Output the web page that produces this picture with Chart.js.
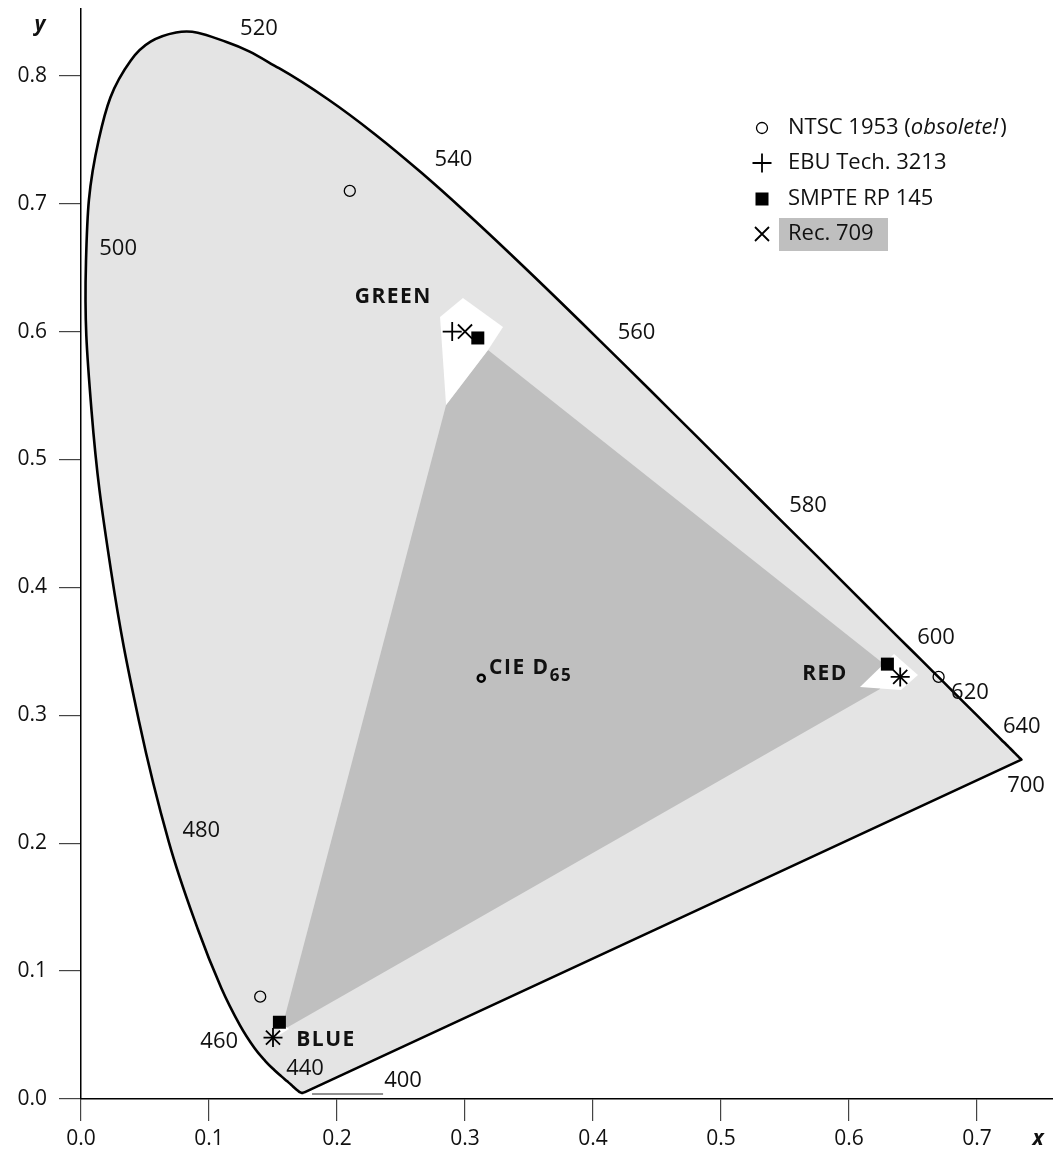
<!DOCTYPE html>
<html>
<head>
<meta charset="utf-8">
<script src="https://cdn.jsdelivr.net/npm/chart.js@4.4.1/dist/chart.umd.min.js"></script>
<style>
  html, body { margin: 0; padding: 0; background: #fff; }
</style>
</head>
<body>
<canvas id="chart" width="1053" height="1155"></canvas>
<script>
// CIE 1931 spectral locus (5 nm steps)
const locusNm = [380,385,390,395,400,405,410,415,420,425,430,435,440,445,450,455,460,465,470,475,
  480,485,490,495,500,505,510,515,520,525,530,535,540,545,550,555,560,565,570,575,580,585,590,595,
  600,605,610,615,620,625,630,635,640,645,650,655,660,665,670,675,680,685,690,695,700]
const locusX = [0.1741,0.1740,0.1738,0.1736,0.1733,0.1730,0.1726,0.1721,0.1714,0.1703,0.1689,0.1669,
  0.1644,0.1611,0.1566,0.1510,0.1440,0.1355,0.1241,0.1096,0.0913,0.0687,0.0454,0.0235,0.0082,0.0039,
  0.0139,0.0389,0.0743,0.1142,0.1547,0.1929,0.2296,0.2658,0.3016,0.3373,0.3731,0.4087,0.4441,0.4788,
  0.5125,0.5448,0.5752,0.6029,0.6270,0.6482,0.6658,0.6801,0.6915,0.7006,0.7079,0.7140,0.7190,0.7230,
  0.7260,0.7283,0.7300,0.7311,0.7320,0.7327,0.7334,0.7340,0.7344,0.7346,0.7347]
const locusY = [0.0050,0.0050,0.0049,0.0049,0.0048,0.0048,0.0048,0.0048,0.0051,0.0058,0.0069,0.0086,
  0.0109,0.0138,0.0177,0.0227,0.0297,0.0399,0.0578,0.0868,0.1327,0.2007,0.2950,0.4127,0.5384,0.6548,
  0.7502,0.8120,0.8338,0.8262,0.8059,0.7816,0.7543,0.7243,0.6923,0.6589,0.6245,0.5896,0.5547,0.5202,
  0.4866,0.4544,0.4242,0.3965,0.3725,0.3514,0.3340,0.3197,0.3083,0.2993,0.2920,0.2859,0.2809,0.2770,
  0.2740,0.2717,0.2700,0.2689,0.2680,0.2673,0.2666,0.2660,0.2656,0.2654,0.2653]

// primaries (R, G, B)
const ntscX = [0.67, 0.21, 0.14]
const ntscY = [0.33, 0.71, 0.08]
const ebuX = [0.64, 0.29, 0.15]
const ebuY = [0.33, 0.60, 0.048]
const smpteX = [0.63, 0.31, 0.155]
const smpteY = [0.34, 0.595, 0.06]
const rec709X = [0.64, 0.30, 0.15]
const rec709Y = [0.33, 0.60, 0.048]
const d65X = [0.3127]
const d65Y = [0.329]

// common area of the gamuts and the parts where they differ
const commonX = [0.3180, 0.6273, 0.6242, 0.1563, 0.2852]
const commonY = [0.5856, 0.3401, 0.3206, 0.0532, 0.5426]
const diffGreenX = [0.2805, 0.2984, 0.3297, 0.3180, 0.2852]
const diffGreenY = [0.6114, 0.6263, 0.6036, 0.5856, 0.5426]
const diffRedX = [0.6086, 0.6352, 0.6539, 0.6406]
const diffRedY = [0.3221, 0.3479, 0.3315, 0.3198]
const diffBlueX = [0.1523, 0.1570, 0.1625]
const diffBlueY = [0.0485, 0.0586, 0.0547]

// wavelength marks along the locus
const waveLabels = ['520', '540', '560', '580', '600', '620', '640', '700', '500', '480', '460', '440', '400']
const waveLabelX = [0.139, 0.291, 0.434, 0.568, 0.668, 0.6945, 0.735, 0.7383, 0.029, 0.094, 0.108, 0.175, 0.2516]
const waveLabelY = [0.837, 0.734, 0.599, 0.4636, 0.361, 0.318, 0.291, 0.2447, 0.665, 0.210, 0.0446, 0.0235, 0.0141]
const leaderX = [0.1805, 0.236]
const leaderY = [0.0039, 0.0039]

const xTicks = [0.0, 0.1, 0.2, 0.3, 0.4, 0.5, 0.6, 0.7]
const yTicks = [0.0, 0.1, 0.2, 0.3, 0.4, 0.5, 0.6, 0.7, 0.8]

const FONT = "'Open Sans', 'Noto Sans', sans-serif"
const LIGHT = '#e4e4e4'
const DARK = '#bfbfbf'

const pts = (xs, ys) => xs.map((x, i) => ({ x, y: ys[i] }))
const closed = (xs, ys) => { const p = pts(xs, ys); p.push(p[0]); return p }

const polygon = (data, color, order) => ({
  data, order,
  showLine: true,
  fill: 'shape',
  backgroundColor: color,
  borderColor: 'rgba(0,0,0,0)',
  borderWidth: 0,
  pointRadius: 0,
  tension: 0
})

const markers = (data, style, radius, width, fillColor) => ({
  data, order: 0,
  showLine: false,
  pointStyle: style,
  pointRadius: radius,
  pointHoverRadius: radius,
  pointBorderWidth: width,
  pointBorderColor: '#000',
  pointBackgroundColor: fillColor
})

// small marker drawing for the hand-made legend
function drawMark (ctx, style, x, y) {
  ctx.save()
  ctx.strokeStyle = '#000'
  ctx.fillStyle = '#000'
  ctx.beginPath()
  if (style === 'circle') {
    ctx.lineWidth = 1.3
    ctx.arc(x, y, 5.5, 0, Math.PI * 2)
    ctx.stroke()
  } else if (style === 'cross') {
    ctx.lineWidth = 1.8
    ctx.moveTo(x - 9.5, y); ctx.lineTo(x + 9.5, y)
    ctx.moveTo(x, y - 9.5); ctx.lineTo(x, y + 9.5)
    ctx.stroke()
  } else if (style === 'rect') {
    ctx.fillRect(x - 6.5, y - 6.5, 13, 13)
  } else {
    ctx.lineWidth = 1.8
    ctx.moveTo(x - 7, y - 7); ctx.lineTo(x + 7, y + 7)
    ctx.moveTo(x - 7, y + 7); ctx.lineTo(x + 7, y - 7)
    ctx.stroke()
  }
  ctx.restore()
}

const annotations = {
  id: 'annotations',
  afterDraw (chart) {
    const { ctx, scales: { x, y } } = chart
    ctx.save()
    ctx.fillStyle = '#111'
    ctx.textBaseline = 'middle'

    // wavelengths
    ctx.font = `22px ${FONT}`
    ctx.textAlign = 'center'
    waveLabels.forEach((t, i) => {
      ctx.fillText(t, x.getPixelForValue(waveLabelX[i]), y.getPixelForValue(waveLabelY[i]))
    })

    // primaries names
    ctx.font = `bold 21px ${FONT}`
    ctx.letterSpacing = '1.5px'
    ctx.fillText('GREEN', x.getPixelForValue(0.244), y.getPixelForValue(0.627))
    ctx.fillText('RED', x.getPixelForValue(0.5813), y.getPixelForValue(0.332))
    ctx.fillText('BLUE', x.getPixelForValue(0.1914), y.getPixelForValue(0.0461))

    // white point
    ctx.textAlign = 'left'
    const wx = x.getPixelForValue(0.3188), wy = y.getPixelForValue(0.337)
    ctx.fillText('CIE D', wx, wy)
    const dw = ctx.measureText('CIE D').width
    ctx.font = `bold 17px ${FONT}`
    ctx.fillText('65', wx + dw, wy + 8)
    ctx.letterSpacing = '0px'

    // axis titles
    ctx.font = `italic bold 21px ${FONT}`
    ctx.textAlign = 'center'
    ctx.fillText('y', 40, 25)
    ctx.fillText('x', 1038, 1139)

    // legend
    const lx = 762, tx = 788
    const rows = [128, 163, 199, 234]
    ctx.fillStyle = DARK
    ctx.fillRect(779, 218, 109, 33)
    ctx.fillStyle = '#111'
    ctx.textAlign = 'left'
    drawMark(ctx, 'circle', lx, rows[0])
    drawMark(ctx, 'cross', lx, rows[1])
    drawMark(ctx, 'rect', lx, rows[2])
    drawMark(ctx, 'crossRot', lx, rows[3])
    ctx.font = `22px ${FONT}`
    let px = tx
    ctx.fillText('NTSC 1953 (', px, rows[0]); px += ctx.measureText('NTSC 1953 (').width
    ctx.font = `italic 22px ${FONT}`
    ctx.fillText('obsolete!', px, rows[0]); px += ctx.measureText('obsolete!').width + 2
    ctx.font = `22px ${FONT}`
    ctx.fillText(')', px, rows[0])
    ctx.fillText('EBU Tech. 3213', tx, rows[1])
    ctx.fillText('SMPTE RP 145', tx, rows[2])
    ctx.fillText('Rec. 709', tx, rows[3])
    ctx.restore()
  }
}

const axisCommon = {
  type: 'linear',
  min: 0,
  grid: { drawOnChartArea: false, drawTicks: true, tickLength: 22, color: '#444', lineWidth: 1.2 },
  border: { display: true, color: '#000', width: 1.5 },
  ticks: {
    color: '#111',
    font: { family: FONT, size: 21 },
    autoSkip: false,
    maxRotation: 0,
    callback: v => Number(v).toFixed(1)
  }
}

new Chart(document.getElementById('chart'), {
  type: 'scatter',
  data: {
    datasets: [
      {
        data: closed(locusX, locusY),
        order: 9,
        showLine: true,
        fill: 'shape',
        backgroundColor: LIGHT,
        borderColor: '#000',
        borderWidth: 2.6,
        pointRadius: 0,
        tension: 0.4
      },
      polygon(closed(commonX, commonY), DARK, 8),
      polygon(closed(diffGreenX, diffGreenY), '#fff', 7),
      polygon(closed(diffRedX, diffRedY), '#fff', 7),
      polygon(closed(diffBlueX, diffBlueY), '#fff', 7),
      {
        data: pts(leaderX, leaderY),
        order: 1,
        showLine: true,
        borderColor: '#222',
        borderWidth: 1,
        pointRadius: 0
      },
      markers(pts(ntscX, ntscY), 'circle', 5.5, 1.3, 'rgba(0,0,0,0)'),
      markers(pts(ebuX, ebuY), 'cross', 9.5, 1.8, 'rgba(0,0,0,0)'),
      markers(pts(rec709X, rec709Y), 'crossRot', 10, 1.8, 'rgba(0,0,0,0)'),
      markers(pts(smpteX, smpteY), 'rect', 9.2, 0, '#000'),
      markers(pts(d65X, d65Y), 'circle', 3.5, 2.5, 'rgba(0,0,0,0)')
    ]
  },
  options: {
    responsive: false,
    animation: false,
    events: [],
    elements: { line: { capBezierPoints: false } },
    layout: { autoPadding: false, padding: { top: 9, right: 0, left: 0, bottom: 0 } },
    plugins: { legend: { display: false }, tooltip: { enabled: false } },
    scales: {
      x: {
        ...axisCommon,
        max: 0.759375,
        ticks: { ...axisCommon.ticks, padding: 5 },
        afterBuildTicks: s => { s.ticks = xTicks.map(v => ({ value: v })) },
        afterFit: s => { s.height = 56; s.paddingLeft = 0; s.paddingRight = 0 }
      },
      y: {
        ...axisCommon,
        max: 0.8522,
        ticks: { ...axisCommon.ticks, padding: 12 },
        afterBuildTicks: s => { s.ticks = yTicks.map(v => ({ value: v })) },
        afterFit: s => { s.width = 81; s.paddingTop = 0; s.paddingBottom = 0 }
      }
    }
  },
  plugins: [annotations]
})
</script>
</body>
</html>
